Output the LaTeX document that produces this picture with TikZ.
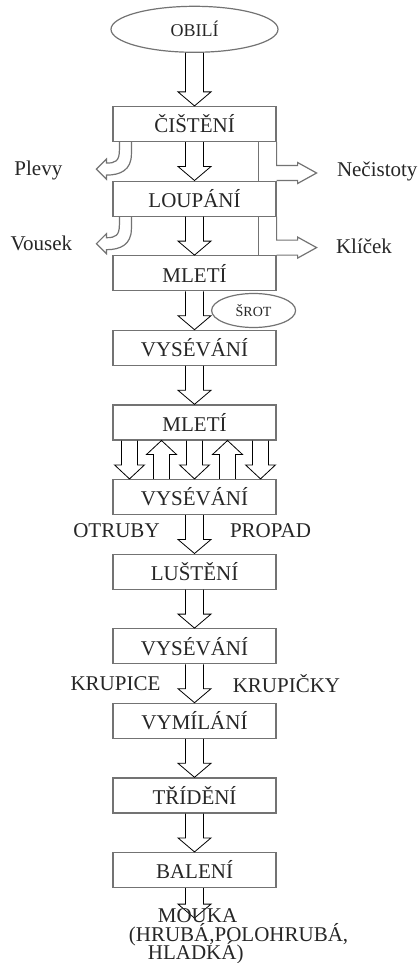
\documentclass[tikz,border=0pt]{standalone}
\usepackage{fontspec}
\setmainfont{Liberation Serif}
\usetikzlibrary{positioning, calc, shapes.geometric}

\begin{document}
\begin{tikzpicture}[
    x=0.5pt, y=-0.5pt,
    % krok výroby
    krok/.style={draw=black!55, line width=0.6pt, minimum width=81.5pt, minimum height=17.5pt, inner sep=0pt, font=\fontsize{10.5}{12}\selectfont, text=black!85},
    % surovina / meziprodukt
    surovina/.style={ellipse, draw=black!55, line width=0.6pt, inner sep=0pt, text=black!85},
    % popisky produktů
    popis/.style={font=\fontsize{10.5}{12}\selectfont, text=black!85, inner sep=0pt},
    cara/.style={draw=black!55, line width=0.6pt},
    % dutá šipka (polovina dříku, polovina hrotu)
    sipka/.style 2 args={cara, to path={let \p1=($(\tikztotarget)!7pt!(\tikztostart)$) in
        ($(\tikztostart)+(-#1,0)$) -- (\x1-#1,\y1) -- (\x1-#2,\y1) -- (\tikztotarget)
        -- (\x1+#2,\y1) -- (\x1+#1,\y1) -- ($(\tikztostart)+(#1,0)$)}},
    tok/.style={sipka={4.5pt}{8.25pt}},
    obeh/.style={sipka={4pt}{7.5pt}},
    % zahnutá šipka doleva
    pics/odpad/.style={code={
        \draw[cara] (7,0) -- (7,8) .. controls (7,19) and (3,21) .. (-6,21) -- (-6,17) -- (-16,27)
            -- (-6,37) -- (-6,33) .. controls (8,33) and (19,28) .. (19,12) -- (19,0);}},
    node distance=19.2pt
]
\useasboundingbox (0,0) rectangle (419,963);

% kroky
\node[krok] (cis) at (194.5,124) {ČIŠTĚNÍ};
\node[krok, below=of cis] (lou) {LOUPÁNÍ};
\node[krok, below=of lou] (mle) {MLETÍ};
\node[krok, below=of mle] (vys) {VYSÉVÁNÍ};
\node[krok, below=of vys] (mle2) {MLETÍ};
\node[krok, below=of mle2] (vys2) {VYSÉVÁNÍ};
\node[krok, below=of vys2] (lus) {LUŠTĚNÍ};
\node[krok, below=of lus] (vys3) {VYSÉVÁNÍ};
\node[krok, below=of vys3] (vym) {VYMÍLÁNÍ};
\node[krok, below=of vym] (tri) {TŘÍDĚNÍ};
\node[krok, below=of tri] (bal) {BALENÍ};

\node[surovina, minimum width=83.5pt, minimum height=23pt, font=\fontsize{9}{10}\selectfont, above=26.5pt of cis] (obi) {OBILÍ};
\node[surovina, minimum width=42pt, minimum height=17pt, font=\fontsize{7}{8}\selectfont] (srot) at ($(mle.south east)!0.5!(vys.north east)+(-23,0)$) {ŠROT};

% hlavní tok
\draw (obi.south) to[tok] (cis.north);
\foreach \a/\b in {cis/lou, lou/mle, mle/vys, vys/mle2, vys2/lus, lus/vys3, vys3/vym, vym/tri, tri/bal}
    \draw (\a.south) to[tok] (\b.north);

% mletí a vysévání tam a zpět
\foreach \i/\dx in {1/-65, 2/-33, 3/0, 4/33, 5/66} {
    \coordinate (h\i) at ($(mle2.south)+(\dx,0)$);
    \coordinate (d\i) at ($(vys2.north)+(\dx,0)$);
}
\foreach \i in {1,3,5} \draw (h\i) to[obeh] (d\i);
\foreach \i in {2,4} \draw (d\i) to[obeh] (h\i);

% odpady vlevo
\pic at (cis.south west) {odpad};
\pic at (lou.south west) {odpad};

% odpady vpravo
\foreach \a/\b in {cis/lou, lou/mle} {
    \draw[cara] ($(\a.south east)+(-18,0)$) -- ($(\b.north east)+(-18,0)$);
    \draw[cara] (\a.south east) -- ($(\b.north east)+(0,-15)$) -- ++(21,0) -- ++(0,-3)
        -- ($(\b.north east)+(40,-7.5)$) -- ($(\b.north east)+(21,3)$) -- ++(0,-3) -- (\b.north east);
}

% popisky
\node[popis] (plevy) at ($(cis.south west)+(-74,28)$) {Plevy};
\node[popis] (vousek) at ($(lou.south west)+(-71,27)$) {Vousek};
\node[popis, anchor=west] (necist) at ($(lou.north east)+(60,-9)$) {Nečistoty};
\node[popis, anchor=west] (klicek) at ($(mle.north east)+(59,-9)$) {Klíček};
\node[popis] (otruby) at ($(vys2.south)+(-78,16)$) {OTRUBY};
\node[popis] (propad) at ($(vys2.south)+(76,16)$) {PROPAD};
\node[popis] (krupice) at ($(vys3.south)+(-79,19)$) {KRUPICE};
\node[popis] (krupicky) at ($(vys3.south)+(92,19)$) {KRUPIČKY};

% výstup
\coordinate (konec) at ($(bal.south)+(0,30)$);
\draw (bal.south) to[tok] (konec);
\node[popis, anchor=north west, align=left, font={\fontsize{10.5}{9.3}\selectfont\lineskiplimit=-10pt}] (mouka) at ($(konec)+(-66,-10)$)
    {\hspace*{14.5pt}MOUKA\\(HRUBÁ,POLOHRUBÁ,\\\hspace*{9.5pt}HLADKÁ)};
\end{tikzpicture}
\end{document}
